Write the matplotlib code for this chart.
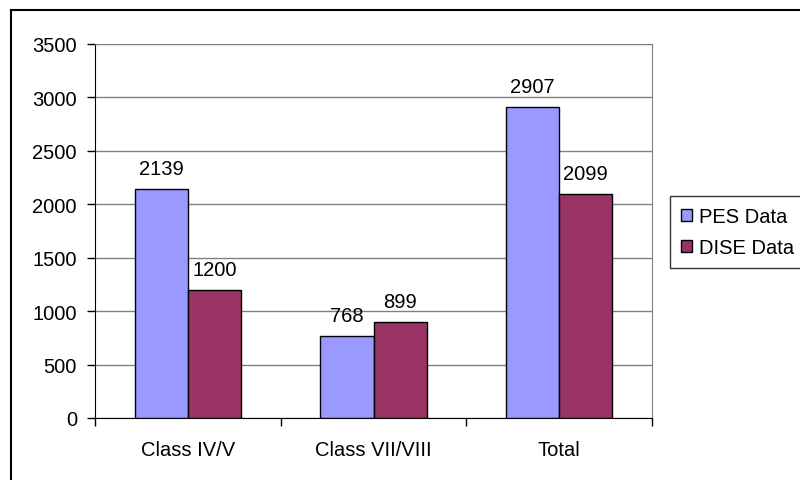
import numpy as np
import matplotlib.pyplot as plt
from matplotlib.lines import Line2D

plt.rcParams['font.family'] = ['Liberation Sans', 'DejaVu Sans']

# data
categories = ["Class IV/V", "Class VII/VIII", "Total"]
pes = [2139, 768, 2907]
dise = [1200, 899, 2099]
series_names = ["PES Data", "DISE Data"]
colors = ["#9999FF", "#993366"]

fs = 14.5

fig = plt.figure(figsize=(8, 4.81), dpi=100)

# outer chart border (cropped on right/bottom)
fig.add_artist(Line2D([11/800, 11/800], [0, 1 - 11/481], color="black", lw=1.5, transform=fig.transFigure))
fig.add_artist(Line2D([11/800, 1], [1 - 11/481, 1 - 11/481], color="black", lw=1.5, transform=fig.transFigure))

ax = fig.add_axes([95/800, 1 - 419/481, (652 - 95)/800, (419 - 45)/481])

x = np.arange(len(categories))
w = 1 / 3.5
b1 = ax.bar(x - w/2, pes, w, color=colors[0], edgecolor="black", linewidth=1, label=series_names[0], zorder=3)
b2 = ax.bar(x + w/2, dise, w, color=colors[1], edgecolor="black", linewidth=1, label=series_names[1], zorder=3)

for bars, vals in [(b1, pes), (b2, dise)]:
    for r, v in zip(bars, vals):
        ax.annotate(str(v), (r.get_x() + r.get_width()/2, v), xytext=(0, 8),
                    textcoords="offset points", ha="center", va="bottom", fontsize=fs, zorder=4)

ax.set_xlim(-0.5, 2.5)
ax.set_ylim(0, 3500)
ax.set_yticks(np.arange(0, 3501, 500))
ax.yaxis.grid(True, color="#808080", lw=1, zorder=0)
ax.tick_params(axis="y", direction="out", length=6, width=1, labelsize=fs, pad=7)

ax.set_xticks([-0.5, 0.5, 1.5, 2.5])
ax.set_xticklabels([])
ax.tick_params(axis="x", which="major", direction="out", length=6, width=1)
ax.set_xticks(x, minor=True)
ax.set_xticklabels(categories, minor=True, fontsize=fs)
ax.tick_params(axis="x", which="minor", length=0, pad=16)

ax.spines["left"].set_color("black")
ax.spines["bottom"].set_color("black")
ax.spines["right"].set_color("#808080")
ax.spines["top"].set_color("#808080")

leg = fig.legend(handles=[b1, b2], labels=series_names, loc="upper left",
                 bbox_to_anchor=(670/800, 1 - 197/481), fontsize=fs, frameon=True,
                 fancybox=False, edgecolor="black", handlelength=0.55, handleheight=0.55,
                 handletextpad=0.35, borderpad=0.55, labelspacing=0.6, borderaxespad=0)
leg.get_frame().set_linewidth(1)

fig.savefig("out.png", dpi=100)
